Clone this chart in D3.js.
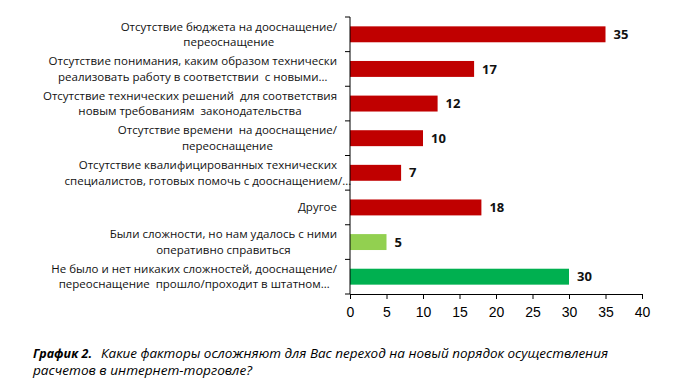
<!DOCTYPE html>
<html>
<head>
<meta charset="utf-8">
<script src="https://cdn.jsdelivr.net/npm/d3@7"></script>
<style>
  body { margin: 0; background: #fff; }
  svg { display: block; font-family: "Open Sans", "Noto Sans", sans-serif; }
  text.cat { white-space: pre; }
</style>
</head>
<body>
<svg id="chart" width="682" height="391"></svg>
<script>
// categories (each split into lines as in the picture)
const categories = [
    ["Отсутствие бюджета на дооснащение/", "переоснащение"],
    ["Отсутствие понимания, каким образом технически", "реализовать работу в соответствии  с новыми…"],
    ["Отсутствие технических решений  для соответствия", "новым требованиям  законодательства"],
    ["Отсутствие времени  на дооснащение/", "переоснащение"],
    ["Отсутствие квалифицированных технических", "специалистов, готовых помочь с дооснащением/…"],
    ["Другое"],
    ["Были сложности, но нам удалось с ними", "оперативно справиться"],
    ["Не было и нет никаких сложностей, дооснащение/", "переоснащение  прошло/проходит в штатном…"]
];
const values = [35, 17, 12, 10, 7, 18, 5, 30];
const barColors = ["#C00000", "#C00000", "#C00000", "#C00000", "#C00000", "#C00000", "#92D050", "#00B050"];
const xTicks = [0, 5, 10, 15, 20, 25, 30, 35, 40];
const captionBold = "График 2.";
const captionLines = [
    "Какие факторы осложняют для Вас переход на новый порядок осуществления",
    "расчетов в интернет-торговле?"
];

const svg = d3.select("#chart");
const margin = { top: 17, left: 350, right: 40, bottom: 97 };
const width = 642 - margin.left;
const height = 294 - margin.top;

const g = svg.append("g").attr("transform", `translate(${margin.left},${margin.top})`);

const x = d3.scaleLinear().domain([0, 40]).range([0, width]);
const y = d3.scaleBand().domain(d3.range(categories.length)).range([0, height]).paddingInner(0.54).paddingOuter(0.27);

// bars
g.selectAll("rect.bar")
    .data(values)
    .enter().append("rect")
    .attr("class", "bar")
    .attr("x", 0)
    .attr("y", (d, i) => y(i))
    .attr("width", d => x(d))
    .attr("height", y.bandwidth())
    .attr("fill", (d, i) => barColors[i]);

// value labels
g.selectAll("text.val")
    .data(values)
    .enter().append("text")
    .attr("class", "val")
    .attr("x", d => x(d) + 8)
    .attr("y", (d, i) => y(i) + y.bandwidth() / 2)
    .attr("dy", "0.36em")
    .style("font-size", "13px")
    .style("font-weight", "bold")
    .attr("fill", "#111")
    .text(d => d);

// x axis
const xAxis = g.append("g")
    .attr("transform", `translate(0,${height})`)
    .call(d3.axisBottom(x).tickValues(xTicks).tickSize(5).tickSizeOuter(0));
xAxis.select(".domain").attr("stroke", "#000");
xAxis.selectAll("text").style("font-size", "14px").attr("fill", "#000").attr("dy", "1.05em");

// y axis line with ticks at band boundaries
const step = height / categories.length;
g.append("line").attr("x1", 0).attr("x2", 0).attr("y1", 0).attr("y2", height).attr("stroke", "#000");
g.selectAll("line.ytick")
    .data(d3.range(categories.length + 1))
    .enter().append("line")
    .attr("class", "ytick")
    .attr("x1", -5).attr("x2", 0)
    .attr("y1", d => d * step).attr("y2", d => d * step)
    .attr("stroke", "#000");

// category labels
const labels = g.selectAll("text.cat")
    .data(categories)
    .enter().append("text")
    .attr("class", "cat")
    .attr("text-anchor", "end")
    .style("font-size", "11.5px")
    .attr("fill", "#111")
    .attr("transform", (d, i) => `translate(-13,${y(i) + y.bandwidth() / 2})`);

labels.each(function (lines) {
    const t = d3.select(this);
    const lh = 15.5;
    lines.forEach((ln, j) => {
        t.append("tspan")
            .attr("x", 0)
            .attr("y", (j - (lines.length - 1) / 2) * lh)
            .attr("dy", "0.35em")
            .text(ln);
    });
});

// centre the second line under the first one, like the wrapped Excel labels
labels.each(function (lines) {
    if (lines.length < 2) return;
    const spans = d3.select(this).selectAll("tspan").nodes();
    const w0 = spans[0].getComputedTextLength();
    const w1 = spans[1].getComputedTextLength();
    d3.select(spans[1]).attr("x", -(w0 - w1) / 2);
});

// caption
function captionText(str, cx, cy, len, bold) {
    svg.append("text")
        .attr("x", cx)
        .attr("y", cy)
        .attr("textLength", len)
        .attr("lengthAdjust", "spacingAndGlyphs")
        .style("font-size", "13px")
        .style("font-style", "italic")
        .style("font-weight", bold ? "bold" : "normal")
        .attr("fill", "#000")
        .text(str);
}
captionText(captionBold, 33, 358, 59, true);
captionText(captionLines[0], 101, 358, 507, false);
captionText(captionLines[1], 33, 375, 219, false);
</script>
</body>
</html>
